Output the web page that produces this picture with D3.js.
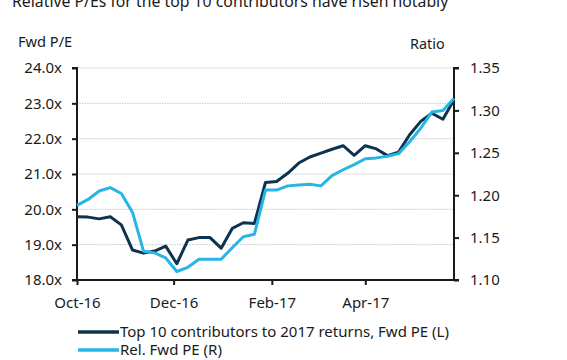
<!DOCTYPE html>
<html>
<head>
<meta charset="utf-8">
<script src="https://cdn.jsdelivr.net/npm/d3@7"></script>
<style>
  html, body { margin: 0; padding: 0; background: #fff; }
  svg { display: block; }
  text { font-family: "Noto Sans", "Open Sans", sans-serif; fill: #1a1a1a; }
</style>
</head>
<body>
<svg id="chart" width="567" height="360"></svg>
<script>
const title = "Relative P/Es for the top 10 contributors have risen notably";
const leftAxisTitle = "Fwd P/E";
const rightAxisTitle = "Ratio";
const seriesNames = ["Top 10 contributors to 2017 returns, Fwd PE (L)", "Rel. Fwd PE (R)"];

const dates = [
  "2016-10-01","2016-10-08","2016-10-15","2016-10-22","2016-10-29",
  "2016-11-05","2016-11-12","2016-11-19","2016-11-26","2016-12-03",
  "2016-12-10","2016-12-17","2016-12-24","2016-12-31","2017-01-07",
  "2017-01-14","2017-01-21","2017-01-28","2017-02-04","2017-02-11",
  "2017-02-18","2017-02-25","2017-03-04","2017-03-11","2017-03-18",
  "2017-03-25","2017-04-01","2017-04-08","2017-04-15","2017-04-22",
  "2017-04-29","2017-05-06","2017-05-13","2017-05-20","2017-05-27"
];

const fwdPE = [
  19.79, 19.78, 19.73, 19.79, 19.56, 18.85, 18.76, 18.82, 18.96, 18.46,
  19.13, 19.20, 19.20, 18.90, 19.46, 19.62, 19.60, 20.76, 20.79, 21.02,
  21.31, 21.48, 21.59, 21.70, 21.80, 21.53, 21.80, 21.71, 21.52, 21.62,
  22.11, 22.49, 22.72, 22.55, 23.10
];

const relPE = [
  1.188, 1.195, 1.205, 1.209, 1.202, 1.180, 1.134, 1.132, 1.126, 1.110,
  1.115, 1.1245, 1.1245, 1.1245, 1.138, 1.151, 1.154, 1.206, 1.206, 1.211,
  1.212, 1.213, 1.211, 1.223, 1.230, 1.236, 1.243, 1.244, 1.246, 1.249,
  1.263, 1.279, 1.298, 1.300, 1.314
];

const leftTicks = [18, 19, 20, 21, 22, 23, 24];
const rightTicks = [1.10, 1.15, 1.20, 1.25, 1.30, 1.35];
const xTickDates = ["2016-10-01", "2016-12-01", "2017-02-01", "2017-04-01"];
const xTickLabels = ["Oct-16", "Dec-16", "Feb-17", "Apr-17"];

const colors = ["#0c3450", "#27b5e6"];

const parse = d3.timeParse("%Y-%m-%d");
const svg = d3.select("#chart");
const m = { left: 77, right: 454, top: 68, bottom: 280 };

const x = d3.scaleTime()
  .domain([parse(dates[0]), parse(dates[dates.length - 1])])
  .range([m.left, m.right]);
const yL = d3.scaleLinear().domain([18, 24]).range([m.bottom, m.top]);
const yR = d3.scaleLinear().domain([1.10, 1.35]).range([m.bottom, m.top]);

// title (partially cut at top, as in the reference)
svg.append("text").attr("x", 12).attr("y", 7)
  .attr("font-size", 15.8).attr("font-weight", 400)
  .text(title);

// axis titles
svg.append("text").attr("x", 18).attr("y", 47).attr("font-size", 14.6).text(leftAxisTitle);
svg.append("text").attr("x", 410).attr("y", 49).attr("font-size", 14.4).text(rightAxisTitle);

// gridlines
svg.append("g").selectAll("line").data(leftTicks.filter(d => d > 18)).join("line")
  .attr("x1", m.left).attr("x2", m.right)
  .attr("y1", d => yL(d)).attr("y2", d => yL(d))
  .attr("stroke", "#c8c8c8").attr("stroke-width", 1)
  .attr("stroke-dasharray", "1.5,1");

// left axis
const gL = svg.append("g").attr("transform", `translate(${m.left},0)`)
  .call(d3.axisLeft(yL).tickValues(leftTicks).tickSize(5).tickPadding(10)
    .tickFormat(d => d3.format(".1f")(d) + "x"));
// right axis
const gR = svg.append("g").attr("transform", `translate(${m.right},0)`)
  .call(d3.axisRight(yR).tickValues(rightTicks).tickSize(5).tickPadding(11)
    .tickFormat(d3.format(".2f")));
// bottom axis
const gB = svg.append("g").attr("transform", `translate(0,${m.bottom})`)
  .call(d3.axisBottom(x).tickValues(xTickDates.map(parse)).tickSize(5).tickPadding(12)
    .tickFormat((d, i) => xTickLabels[i]));

[gL, gR, gB].forEach(g => {
  g.select(".domain").attr("stroke", "#1a1a1a").attr("stroke-width", 2);
  g.selectAll(".tick line").attr("stroke", "#1a1a1a").attr("stroke-width", 2);
  g.selectAll(".tick text").attr("font-size", 15).attr("fill", "#1a1a1a")
    .style("font-family", '"Noto Sans", sans-serif');
});
gL.select(".domain").attr("d", `M-5,${m.top}H0V${m.bottom}H-5`);
gR.select(".domain").attr("d", `M5,${m.top}H0V${m.bottom}H5`);
gB.select(".domain").attr("d", `M${m.left},0H${m.right}`);

// lines
const lineL = d3.line().x((d, i) => x(parse(dates[i]))).y(d => yL(d));
const lineR = d3.line().x((d, i) => x(parse(dates[i]))).y(d => yR(d));

svg.append("path").datum(fwdPE).attr("d", lineL)
  .attr("fill", "none").attr("stroke", colors[0]).attr("stroke-width", 3)
  .attr("stroke-linejoin", "round");
svg.append("path").datum(relPE).attr("d", lineR)
  .attr("fill", "none").attr("stroke", colors[1]).attr("stroke-width", 3)
  .attr("stroke-linejoin", "round");

// legend
const leg = svg.append("g");
seriesNames.forEach((name, i) => {
  const yy = 332 + i * 18;
  leg.append("line").attr("x1", 78).attr("x2", 119).attr("y1", yy).attr("y2", yy)
    .attr("stroke", colors[i]).attr("stroke-width", 3.5);
  leg.append("text").attr("x", 120).attr("y", yy + 5).attr("font-size", 15).text(name);
});
</script>
</body>
</html>
